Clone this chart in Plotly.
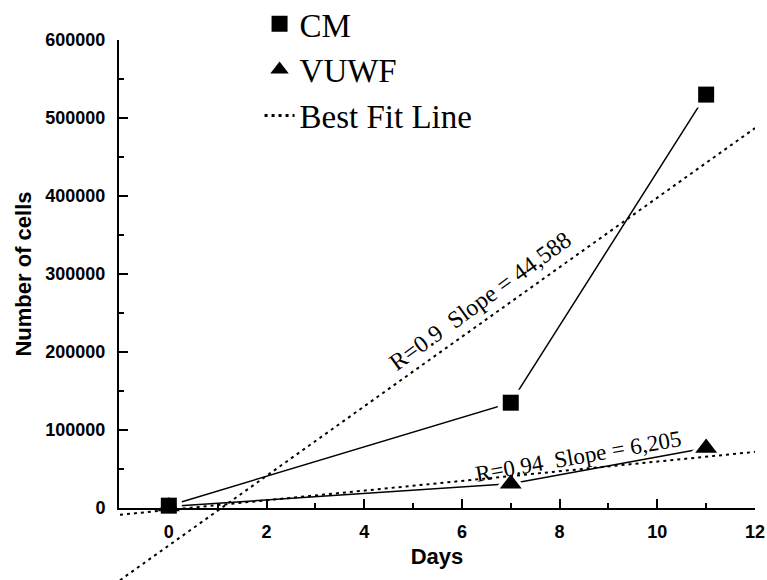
import plotly.graph_objects as go

# ---- data ----
days = [0, 7, 11]
cm_cells = [3000, 135000, 530000]
vuwf_cells = [2000, 31000, 77000]

cm_slope = 44588
cm_intercept = -48000
vuwf_slope = 6205
vuwf_intercept = -2500
fit_days = [-1, 12]

x_tick_vals = [0, 2, 4, 6, 8, 10, 12]
x_tick_text = ["0", "2", "4", "6", "8", "10", "12"]
y_tick_vals = [0, 100000, 200000, 300000, 400000, 500000, 600000]
y_tick_text = ["0", "100000", "200000", "300000", "400000", "500000", "600000"]

cm_fit = [cm_slope * d + cm_intercept for d in fit_days]
vuwf_fit = [vuwf_slope * d + vuwf_intercept for d in fit_days]

SERIF = "Liberation Serif, Times New Roman, serif"
SANS = "Liberation Sans, Arial, sans-serif"

fig = go.Figure()

# best fit lines (on an extended, hidden y axis so they may run below the x axis)
fig.add_trace(go.Scatter(x=fit_days, y=cm_fit, mode="lines", name="Best Fit Line",
                         line=dict(color="black", width=2, dash="3px,4px"),
                         xaxis="x", yaxis="y2", showlegend=False, hoverinfo="skip"))
fig.add_trace(go.Scatter(x=fit_days, y=vuwf_fit, mode="lines", name="Best Fit Line",
                         line=dict(color="black", width=2, dash="3px,4px"),
                         xaxis="x", yaxis="y2", showlegend=False, hoverinfo="skip"))

# connecting lines
fig.add_trace(go.Scatter(x=days, y=cm_cells, mode="lines", line=dict(color="black", width=1.5),
                         showlegend=False, hoverinfo="skip"))
fig.add_trace(go.Scatter(x=days, y=vuwf_cells, mode="lines", line=dict(color="black", width=1.5),
                         showlegend=False, hoverinfo="skip"))
# white halos leaving small gaps around markers
fig.add_trace(go.Scatter(x=days, y=cm_cells, mode="markers",
                         marker=dict(symbol="square", size=26, color="white"),
                         showlegend=False, hoverinfo="skip", cliponaxis=False))
fig.add_trace(go.Scatter(x=days, y=vuwf_cells, mode="markers",
                         marker=dict(symbol="triangle-up", size=30, color="white"),
                         showlegend=False, hoverinfo="skip", cliponaxis=False))
# markers
fig.add_trace(go.Scatter(x=days, y=cm_cells, mode="markers", name="CM",
                         marker=dict(symbol="square", size=16, color="black"), cliponaxis=False))
fig.add_trace(go.Scatter(x=days, y=vuwf_cells, mode="markers", name="VUWF",
                         marker=dict(symbol="triangle-up", size=19, color="black"), cliponaxis=False))
# legend entry for the fit line
fig.add_trace(go.Scatter(x=[None], y=[None], mode="lines", name="Best Fit Line",
                         line=dict(color="black", width=3, dash="3px,4px")))

fig.add_annotation(x=6.37, y=266000, xref="x", yref="y", text="R=0.9&nbsp;&nbsp;Slope = 44,588",
                   showarrow=False, textangle=-36, font=dict(family=SERIF, size=24, color="black"))
fig.add_annotation(x=8.38, y=66000, xref="x", yref="y", text="R=0.94&nbsp;&nbsp;Slope = 6,205",
                   showarrow=False, textangle=-10, font=dict(family=SERIF, size=23, color="black"))

axis_common = dict(showline=True, linecolor="black", linewidth=2, ticks="inside",
                   ticklen=9, tickwidth=2, tickcolor="black", showgrid=False, zeroline=False,
                   tickfont=dict(family=SANS, size=18, color="black", weight="bold"))

fig.update_layout(
    width=767, height=580,
    margin=dict(l=119, r=12, t=40, b=0, autoexpand=False),
    paper_bgcolor="white", plot_bgcolor="rgba(0,0,0,0)",
    xaxis=dict(range=[-1.02, 12], tickvals=x_tick_vals, ticktext=x_tick_text,
               minor=dict(dtick=1, tick0=0, ticks="inside", ticklen=5, tickwidth=2, tickcolor="black"),
               anchor="y", ticklabelstandoff=6, automargin=False,
               title=dict(text="Days", font=dict(family=SANS, size=22, color="black", weight="bold"),
                          standoff=8),
               **axis_common),
    yaxis=dict(range=[0, 600000], domain=[72 / 540, 1], tickvals=y_tick_vals, ticktext=y_tick_text,
               minor=dict(dtick=50000, tick0=0, ticks="inside", ticklen=5, tickwidth=2, tickcolor="black"),
               anchor="x", ticklabelstandoff=8, automargin=False,
               title=dict(text="Number of cells", font=dict(family=SANS, size=22, color="black", weight="bold"),
                          standoff=8),
               **axis_common),
    yaxis2=dict(range=[-600000 * 72 / 468, 600000], domain=[0, 1], visible=False, anchor="x",
                showgrid=False, zeroline=False),
    legend=dict(x=0.221, xanchor="left", y=1.082, yanchor="top", bgcolor="rgba(0,0,0,0)",
                font=dict(family=SERIF, size=33, color="black"), tracegroupgap=0),
    showlegend=True,
)

# remove the default page margin so the 767x580 figure fills the window exactly
fig.write_html("out.html", config={"displayModeBar": False},
               post_script="document.body.style.margin='0';document.body.style.overflow='hidden';")
